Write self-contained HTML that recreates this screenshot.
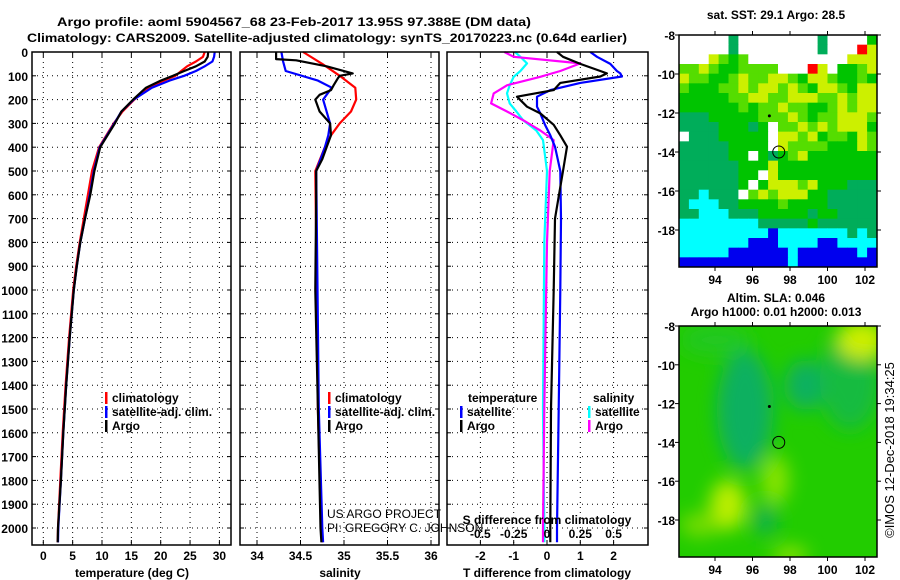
<!DOCTYPE html>
<html><head><meta charset="utf-8">
<style>
html,body{margin:0;padding:0;background:#fff;width:900px;height:580px;overflow:hidden}
svg text{font-family:"Liberation Sans",Arial,sans-serif;font-weight:bold;font-size:12px;fill:#000}
</style></head>
<body>
<svg id="chart" width="900" height="580" xmlns="http://www.w3.org/2000/svg"></svg>
<script>
// ---------- data ----------
const depthT = [0,20,40,60,80,100,120,150,200,250,300,400,500,600,700,800,900,1000,1200,1400,1600,1800,2000,2060];
const argoT  = [28.1,28,27.5,26,24,22.1,20,17.5,15.3,13.3,12.2,9.7,8.7,8.0,7.1,6.3,5.7,5.2,4.5,3.9,3.4,3.0,2.5,2.45];
const climT  = [27.5,27.2,26,24.5,23.5,22.5,20.5,18,15.5,13.5,12.0,9.5,8.3,7.6,6.9,6.2,5.6,5.1,4.4,3.8,3.3,2.9,2.5,2.45];
const satT   = [29.2,29.1,28.8,27.5,26,24,21.5,18.5,15.4,13.3,12.1,9.6,8.6,7.9,7.1,6.3,5.7,5.2,4.5,3.9,3.4,3.0,2.55,2.5];

const depthAS = [0,30,35,60,90,100,110,140,160,180,200,250,300,350,400,450,500,600,1000,1500,2000,2060];
const argoS   = [34.22,34.22,34.45,34.8,35.1,34.95,34.93,34.88,34.85,34.72,34.67,34.72,34.84,34.85,34.8,34.75,34.68,34.68,34.67,34.70,34.73,34.74];
const depthCS = [0,50,100,150,200,250,300,350,400,500,800,1500,2000,2060];
const climS   = [34.53,34.75,34.95,35.13,35.14,35.08,34.95,34.85,34.78,34.67,34.68,34.70,34.74,34.75];
const depthSS = [0,40,80,120,150,200,250,300,350,400,500,800,1500,2000,2060];
const satS    = [34.28,34.3,34.33,34.7,34.86,34.76,34.8,34.84,34.82,34.78,34.68,34.69,34.71,34.75,34.76];

const depthD = [0,20,50,80,90,103,130,160,188,230,258,306,350,398,500,700,1000,1500,2000,2060];
const dTsat  = [1.3,1.5,1.9,2.1,2.2,2.25,1.0,0.1,-0.3,-0.3,-0.2,-0.06,0.1,0.24,0.4,0.42,0.4,0.35,0.3,0.3];
const dTargo = [0.3,0.48,1.0,1.6,1.8,1.6,0.4,0.2,-0.9,-0.6,-0.2,0.2,0.4,0.6,0.48,0.24,0.2,0.12,0.1,0.1];
const depthDS = [0,20,48,80,104,140,174,216,250,286,330,370,500,800,1500,2000,2060];
const dSargo = [-0.32,-0.25,0.25,0.1,-0.05,-0.3,-0.4,-0.42,-0.3,-0.18,-0.05,0.05,0.02,0.0,-0.02,-0.03,-0.03];
const dSsat  = [-0.24,-0.2,-0.15,-0.2,-0.25,-0.28,-0.3,-0.28,-0.23,-0.18,-0.08,-0.03,0.0,-0.02,-0.03,-0.02,-0.02];

const depthTicks = [0,100,200,300,400,500,600,700,800,900,1000,1100,1200,1300,1400,1500,1600,1700,1800,1900,2000];
const tTicks = [0,5,10,15,20,25,30];
const sTicks = [34,34.5,35,35.5,36];
const sLabels = ["34","34.5","35","35.5","36"];
const dTTicks = [-2,-1,0,1,2];
const dSTicks = [-0.5,-0.25,0,0.25,0.5];
const dSLabels = ["-0.5","-0.25","0","0.25","0.5"];
const lonTicks = [94,96,98,100,102];
const latTicks = [-8,-10,-12,-14,-16,-18];

// SST map: 24 rows x 20 cols, codes
const sstRows = [
"WWWWWDWWWWWWWWDWWWWG",
"WWWWWDWWWWWWWWDWWWRY",
"WWWYLGLWWWWWWWWWWYYY",
"LLYLGGLLLLWWWRYWGGLY",
"YLLGGLYLLYYLGYYLGGLG",
"LGGGLLYLYYLYLGYYLGYY",
"GGGGGLLYYLLYYYLLYLYY",
"GGGGGGLGLLYLLGGLYLYY",
"DDDGGGGGLLLYLGLLYYYL",
"DDDDGGGDGWLLYLYLYYYG",
"WDDDGGGGGWYYLYGLLGYL",
"DDDDDGGGGWYLLLLGGGYL",
"DDDDDGGWGDGLYGGGGGGG",
"DDDDDDGGGYGGGGGGGGGG",
"DDDDDDGGWYGGGGGGGGGG",
"DDDDDDGWGYYYLYGGGDDD",
"DDCDDDWLYLYYYGGDDDDD",
"DCCCDDGGGGLGGGGDDDDD",
"DDCCCDDDGGGGGDGGDDDD",
"CCCCCCCCDDDDDGDDDDDD",
"CCCCCCCCCBCCCCCCCDCD",
"CCCCCCCBBBCCCCBBCCCC",
"CCCCCBBBBBBCBBBBBBCB",
"BBBBBBBBBBBCBBBBBBBB"
];
const sstColors = {W:"#ffffff",Y:"#ccf000",L:"#55dd00",G:"#00c400",D:"#00ad5a",C:"#00ffff",B:"#0000ee",R:"#ff0000"};

// ---------- helpers ----------
const svg = document.getElementById('chart');
const NS = "http://www.w3.org/2000/svg";
function mk(tag, attrs, parent){
  const e = document.createElementNS(NS, tag);
  for (const k in attrs) e.setAttribute(k, attrs[k]);
  (parent||svg).appendChild(e);
  return e;
}
function txt(x,y,s,anchor,parent,extra){
  const t = mk('text',Object.assign({x:x,y:y,'text-anchor':anchor||'start'},extra||{}),parent);
  t.textContent = s;
  return t;
}
const Y0 = 52, YPX = 0.238;
function yD(d){ return Y0 + d*YPX; }
const PB = 545;

function panel(name){
  const g = mk('g',{});
  
  
  return g;
}
function frame(g,x0,x1){
  const r = mk('rect',{x:x0,y:Y0,width:x1-x0,height:PB-Y0,fill:'none',stroke:'#000','stroke-width':1.5},g);
  
  
}
function hgrid(g,x0,x1){
  depthTicks.forEach(d=>{
    const y=yD(d);
    if(d>0) mk('line',{x1:x0,x2:x1,y1:y,y2:y,stroke:'#000','stroke-dasharray':'1,4','stroke-width':1},g);
    mk('line',{x1:x0,x2:x0+4,y1:y,y2:y,stroke:'#000'},g);
    mk('line',{x1:x1-4,x2:x1,y1:y,y2:y,stroke:'#000'},g);
  });
}
function vgrid(g,xs){
  xs.forEach(x=>{
    mk('line',{x1:x,x2:x,y1:Y0,y2:PB,stroke:'#000','stroke-dasharray':'1,4'},g);
    mk('line',{x1:x,x2:x,y1:Y0,y2:Y0+5,stroke:'#000'},g);
    mk('line',{x1:x,x2:x,y1:PB-5,y2:PB,stroke:'#000'},g);
  });
}
function line(g,xs,depths,fx,color,name){
  let d='';
  xs.forEach((v,i)=>{ d += (i?'L':'M')+fx(v).toFixed(1)+','+yD(depths[i]).toFixed(1); });
  const p = mk('path',{d:d,fill:'none',stroke:color,'stroke-width':2.2,'stroke-linejoin':'round'},g);
  
  
}

// ---------- titles ----------
const t1 = txt(57,26,"Argo profile: aoml 5904567_68 23-Feb-2017 13.95S 97.388E (DM data)","start",null,{'font-size':'14',textLength:'474',lengthAdjust:'spacingAndGlyphs'});


const t2 = txt(27,42,"Climatology: CARS2009. Satellite-adjusted climatology: synTS_20170223.nc (0.64d earlier)","start",null,{'font-size':'14',textLength:'600',lengthAdjust:'spacingAndGlyphs'});



// y axis labels
const ya = mk('g',{});


depthTicks.forEach(d=>txt(28,yD(d)+5,String(d),'end',ya));

// ---------- panel 1: temperature ----------
const fT = v => 43.3 + v*5.87;
const p1 = panel('temperature-panel');
hgrid(p1,32,231); vgrid(p1,tTicks.map(fT));
line(p1,climT,depthT,fT,'#ff0000','climatology-temperature-line');
line(p1,satT,depthT,fT,'#0000ff','satellite-temperature-line');
line(p1,argoT,depthT,fT,'#000000','argo-temperature-line');
frame(p1,32,231);
tTicks.forEach(v=>txt(fT(v),560,String(v),'middle',p1));
const xt1 = txt(132,577,"temperature (deg C)","middle",p1);



// ---------- panel 2: salinity ----------
const fS = v => 257 + (v-34)*87;
const p2 = panel('salinity-panel');
hgrid(p2,240,439); vgrid(p2,sTicks.map(fS));
line(p2,climS,depthCS,fS,'#ff0000','climatology-salinity-line');
line(p2,satS,depthSS,fS,'#0000ff','satellite-salinity-line');
line(p2,argoS,depthAS,fS,'#000000','argo-salinity-line');
frame(p2,240,439);
sTicks.forEach((v,i)=>txt(fS(v),560,sLabels[i],'middle',p2));
const xt2 = txt(340,577,"salinity","middle",p2);



// ---------- panel 3: differences ----------
const fDT = v => 547 + v*33.3;
const fDS = v => 547 + v*133.2;
const p3 = panel('difference-panel');
hgrid(p3,447,648); vgrid(p3,dTTicks.map(fDT));
line(p3,dSsat,depthDS,fDS,'#00ffff','satellite-salinity-difference-line');
line(p3,dSargo,depthDS,fDS,'#ff00ff','argo-salinity-difference-line');
line(p3,dTsat,depthD,fDT,'#0000ff','satellite-temperature-difference-line');
line(p3,dTargo,depthD,fDT,'#000000','argo-temperature-difference-line');
frame(p3,447,648);
dTTicks.forEach(v=>txt(fDT(v),560,String(v),'middle',p3));
const xt3 = txt(547,577,"T difference from climatology","middle",p3);


const st = txt(547,524,"S difference from climatology","middle",p3);


dSTicks.forEach((v,i)=>txt(fDS(v),538,dSLabels[i],'middle',p3));

// credits
const cr = mk('g',{});


txt(327,518,"US ARGO PROJECT","start",cr,{style:'font-weight:normal'});
txt(327,532,"PI: GREGORY C. JOHNSON","start",cr,{style:'font-weight:normal'});

// ---------- legends ----------
function legendEntry(x,y,color,label,name){
  const g = mk('g',{});
  
  
  mk('rect',{x:x,y:y-10,width:2.5,height:12,fill:color},g);
  txt(x+7,y,label,'start',g);
}
legendEntry(105,402,'#ff0000','climatology','legend-entry-climatology');
legendEntry(105,416,'#0000ff','satellite-adj. clim.','legend-entry-satellite');
legendEntry(105,430,'#000000','Argo','legend-entry-argo');
legendEntry(328,402,'#ff0000','climatology','legend-entry-climatology-2');
legendEntry(328,416,'#0000ff','satellite-adj. clim.','legend-entry-satellite-2');
legendEntry(328,430,'#000000','Argo','legend-entry-argo-2');
txt(468,402,"temperature","start",p3);
legendEntry(460,416,'#0000ff','satellite','legend-entry-t-satellite');
legendEntry(460,430,'#000000','Argo','legend-entry-t-argo');
txt(593,402,"salinity","start",p3);
legendEntry(588,416,'#00ffff','satellite','legend-entry-s-satellite');
legendEntry(588,430,'#ff00ff','Argo','legend-entry-s-argo');

// ---------- maps ----------
const MX0=679, MX1=877;
const fLon = v => 715 + (v-94)*18.75;
function mapAxes(g,top,bot,latPx0,latScale){
  const fLat = v => latPx0 + (-8 - v)*latScale;
  mk('rect',{x:MX0,y:top,width:MX1-MX0,height:bot-top,fill:'none',stroke:'#000','stroke-width':1.5},g);
  lonTicks.forEach(v=>{
    mk('line',{x1:fLon(v),x2:fLon(v),y1:top-4,y2:top,stroke:'#000'},g);
    mk('line',{x1:fLon(v),x2:fLon(v),y1:bot,y2:bot+4,stroke:'#000'},g);
    txt(fLon(v),bot+17,String(v),'middle',g);
  });
  latTicks.forEach(v=>{
    mk('line',{x1:MX1,x2:MX1+4,y1:fLat(v),y2:fLat(v),stroke:'#000'},g);
    mk('line',{x1:MX0-4,x2:MX0,y1:fLat(v),y2:fLat(v),stroke:'#000'},g);
    txt(MX0-4,fLat(v)+5,String(v),'end',g);
  });
  return fLat;
}
// SST map
const m1 = mk('g',{});


const M1T=35, M1B=267;
const cw=(MX1-MX0)/20, ch=(M1B-M1T)/24;
sstRows.forEach((row,r)=>{
  for(let c=0;c<row.length;c++){
    mk('rect',{x:(MX0+c*cw).toFixed(2),y:(M1T+r*ch).toFixed(2),width:(cw+0.4).toFixed(2),height:(ch+0.4).toFixed(2),fill:sstColors[row[c]]},m1);
  }
});
const fLat1 = mapAxes(m1,M1T,M1B,35,19.5);
mk('circle',{cx:fLon(97.4),cy:fLat1(-14),r:6,fill:'none',stroke:'#000'},m1);
mk('circle',{cx:fLon(96.9),cy:fLat1(-12.15),r:1.5,fill:'#000'},m1);
txt(776,19,"sat. SST: 29.1 Argo: 28.5","middle",m1);

// SLA map
const m2 = mk('g',{});


const M2T=326, M2B=557;
const defs = mk('defs',{});
const flt = mk('filter',{id:'blur',x:'-50%',y:'-50%',width:'200%',height:'200%'},defs);
mk('feGaussianBlur',{stdDeviation:'9'},flt);
const cp = mk('clipPath',{id:'m2clip'},defs);
mk('rect',{x:MX0,y:M2T,width:MX1-MX0,height:M2B-M2T},cp);
const mg = mk('g',{'clip-path':'url(#m2clip)'},m2);
mk('rect',{x:MX0,y:M2T,width:MX1-MX0,height:M2B-M2T,fill:'#22cc00'},mg);
const bg = mk('g',{filter:'url(#blur)'},mg);
mk('ellipse',{cx:745,cy:410,rx:28,ry:60,fill:'#10b060'},bg);
mk('ellipse',{cx:805,cy:385,rx:20,ry:25,fill:'#10b060'},bg);
mk('ellipse',{cx:850,cy:380,rx:30,ry:50,fill:'#18bb40'},bg);
mk('ellipse',{cx:715,cy:340,rx:35,ry:15,fill:'#22c820'},bg);
mk('ellipse',{cx:862,cy:340,rx:25,ry:20,fill:'#ccee00'},bg);
mk('ellipse',{cx:728,cy:505,rx:18,ry:25,fill:'#bbee00'},bg);
mk('ellipse',{cx:775,cy:480,rx:14,ry:25,fill:'#88e400'},bg);
mk('ellipse',{cx:700,cy:525,rx:20,ry:12,fill:'#77dd00'},bg);
mk('ellipse',{cx:790,cy:555,rx:18,ry:8,fill:'#99e600'},bg);
mk('ellipse',{cx:765,cy:520,rx:12,ry:15,fill:'#10b050'},bg);
const fLat2 = mapAxes(m2,M2T,M2B,326,19.4);
mk('circle',{cx:fLon(97.4),cy:fLat2(-14),r:6,fill:'none',stroke:'#000'},m2);
mk('circle',{cx:fLon(96.9),cy:fLat2(-12.15),r:1.5,fill:'#000'},m2);
txt(776,302,"Altim. SLA: 0.046","middle",m2);
txt(776,316,"Argo h1000: 0.01 h2000: 0.013","middle",m2);

const stamp = txt(0,0,"©IMOS 12-Dec-2018 19:34:25","middle",null,{style:'font-weight:normal;font-size:13px',transform:'translate(894,450) rotate(-90)'});


</script>
</body></html>
